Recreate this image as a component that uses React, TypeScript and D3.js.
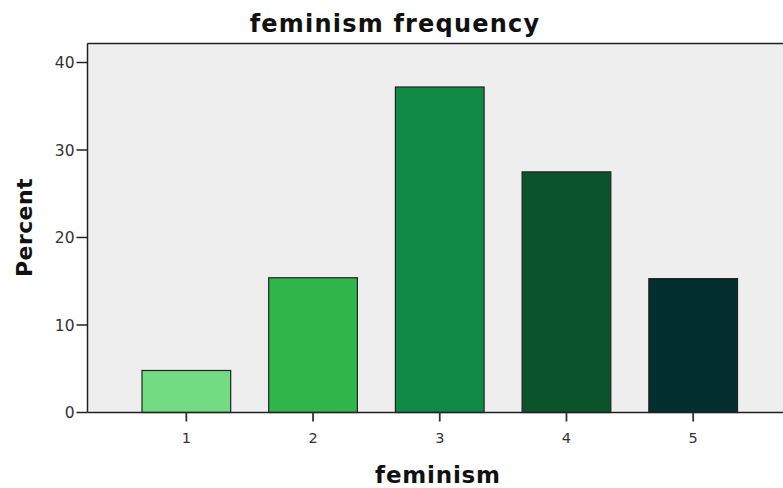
import React from "react";
import * as d3 from "d3";

const categories = ["1", "2", "3", "4", "5"];
const percents = [4.8, 15.4, 37.2, 27.5, 15.3];
const barColors = ["#71dc82", "#30b64a", "#118a47", "#0b542b", "#022e2e"];
const yTicks = [0, 10, 20, 30, 40];
const title = "feminism frequency";
const xTitle = "feminism";
const yTitle = "Percent";

export default function App() {
  const W = 783, H = 488;
  const left = 87.5, top = 43.5, bottom = 412.5;
  const x = d3.scaleBand<string>().domain(categories).range([left, 792]).paddingInner(0.3).paddingOuter(0.43);
  const y = d3.scaleLinear().domain([0, 40]).range([bottom, bottom - 350]);
  const font = "'DejaVu Sans', Verdana, sans-serif";
  return (
    <svg width={W} height={H} style={{ position: "absolute", left: 0, top: 0 }} fontFamily={font}>
      <rect x={0} y={0} width={W} height={H} fill="#fff" />
      <rect x={left} y={top} width={W - left} height={bottom - top} fill="#eeeeee" />
      <line x1={left} x2={W} y1={top} y2={top} stroke="#222" strokeWidth={1.5} />
      {categories.map((c, i) => (
        <rect key={c} x={x(c)!} y={y(percents[i])} width={x.bandwidth()} height={bottom - y(percents[i])}
          fill={barColors[i]} stroke="#222" strokeWidth={1.2} />
      ))}
      <line x1={left} x2={left} y1={top} y2={bottom} stroke="#222" strokeWidth={1.5} />
      <line x1={left} x2={W} y1={bottom} y2={bottom} stroke="#222" strokeWidth={1.5} />
      {yTicks.map(t => (
        <g key={t}>
          <line x1={left - 11} x2={left} y1={y(t)} y2={y(t)} stroke="#222" strokeWidth={1.5} />
          <text x={left - 13} y={y(t)} dy="0.36em" textAnchor="end" fontSize={15.5} fill="#333">{t}</text>
        </g>
      ))}
      {categories.map(c => {
        const cx = x(c)! + x.bandwidth() / 2;
        return (
          <g key={c}>
            <line x1={cx} x2={cx} y1={bottom} y2={bottom + 9} stroke="#333" strokeWidth={1.8} />
            <text x={cx} y={bottom + 30.5} textAnchor="middle" fontSize={14.5} fill="#333">{c}</text>
          </g>
        );
      })}
      <text x={395} y={32} textAnchor="middle" fontSize={24} fontWeight="bold" letterSpacing={1.2} fill="#111">{title}</text>
      <text x={438} y={483} textAnchor="middle" fontSize={23} fontWeight="bold" letterSpacing={0.8} fill="#111">{xTitle}</text>
      <text transform={`translate(32,227.5) rotate(-90)`} textAnchor="middle" fontSize={22} fontWeight="bold" letterSpacing={0.4} fill="#111">{yTitle}</text>
    </svg>
  );
}
